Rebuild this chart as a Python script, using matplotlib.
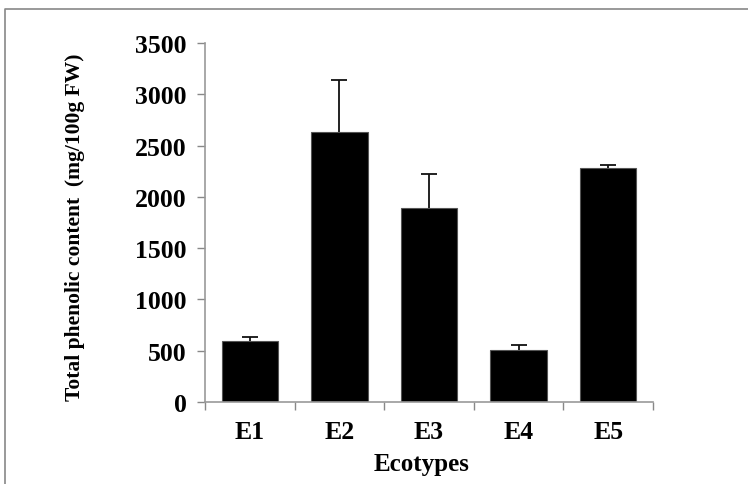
import matplotlib
matplotlib.use("Agg")
import matplotlib.pyplot as plt
from matplotlib.lines import Line2D

categories = ["E1", "E2", "E3", "E4", "E5"]
values = [592, 2634, 1888, 504, 2281]
errors = [38, 504, 334, 49, 29]
yticks = [0, 500, 1000, 1500, 2000, 2500, 3000, 3500]

plt.rcParams["font.family"] = ["Liberation Serif", "DejaVu Serif"]
plt.rcParams["font.weight"] = "bold"

fig = plt.figure(figsize=(7.48, 4.85), dpi=100)
ax = fig.add_axes([205/748, 1-403/485, (653-205)/748, (403-44)/485])

x = list(range(len(categories)))
ax.bar(x, values, width=0.63, color="black", edgecolor="#555555", linewidth=0.8, zorder=2)
eb = ax.errorbar(x, values, yerr=[[0]*len(values), errors], fmt="none", ecolor="#111111",
                 elinewidth=1.3, capsize=6, capthick=1.3, zorder=3)
# keep only the upper caps
caplines = eb.lines[1]
if len(caplines) == 2:
    caplines[0].set_visible(False)

ax.set_xlim(-0.5, len(categories) - 0.5)
ax.set_ylim(0, 3500)
ax.set_yticks(yticks)
ax.set_yticklabels([str(v) for v in yticks], fontsize=18.5, fontweight="bold")
ax.set_xticks([i - 0.5 for i in range(len(categories) + 1)])
ax.set_xticklabels([])
ax.set_xticks(x, minor=True)
ax.set_xticklabels(categories, minor=True, fontsize=18.5, fontweight="bold")
ax.tick_params(axis="x", which="minor", length=0, pad=13)
ax.tick_params(axis="x", which="major", length=6, color="#888888", width=1)
ax.tick_params(axis="y", length=6, color="#888888", width=1, pad=7)

for s in ["top", "right"]:
    ax.spines[s].set_visible(False)
for s in ["left", "bottom"]:
    ax.spines[s].set_color("#999999")
    ax.spines[s].set_linewidth(1.2)

ax.set_ylabel("Total phenolic content  (mg/100g FW)", fontsize=15.5, fontweight="bold")
ax.yaxis.set_label_coords((75 - 205) / 448, 0.49)
ax.set_xlabel("Ecotypes", fontsize=18, fontweight="bold")
ax.xaxis.set_label_coords((422 - 205) / 448, (403 - 465) / 359)
ax.xaxis.label.set_va("center")
ax.yaxis.label.set_va("center")

# outer frame (partial border as in reference)
fig.add_artist(Line2D([5/748, 5/748, 1.0], [0.0, 1-10/485, 1-10/485],
                      transform=fig.transFigure, color="#888888", linewidth=1.2))

fig.savefig("out.png", dpi=100, facecolor="white")
